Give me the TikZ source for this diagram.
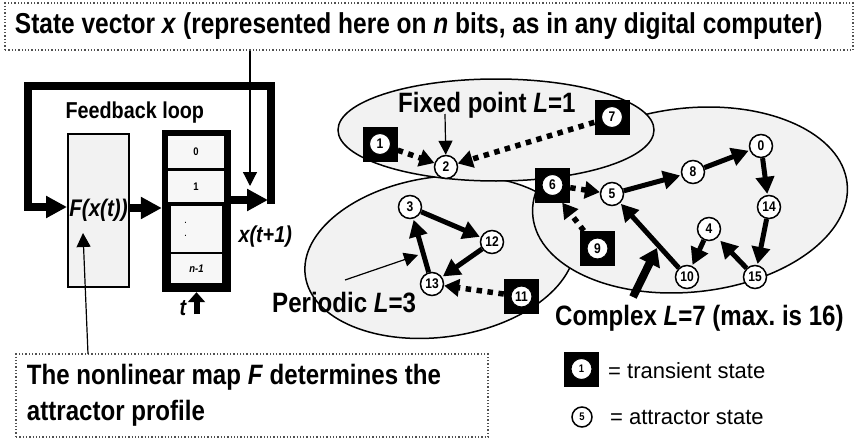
\documentclass[tikz,border=0pt]{standalone}
\usepackage{fontspec}
\setmainfont{Liberation Sans}
\newfontfamily\narrowsans[FakeStretch=0.86]{Liberation Sans}
\newfontfamily\titlesans[FakeStretch=0.85]{Liberation Sans}
\usetikzlibrary{arrows.meta}
\definecolor{panel}{HTML}{F2F2F2}
\definecolor{cellfill}{HTML}{F7F7F7}
\definecolor{dotline}{HTML}{505050}
\newcommand{\setfs}[2]{\fontsize{#1}{#2}\selectfont}
\frenchspacing

\begin{document}
\begin{tikzpicture}[x=1pt,y=-1pt,
  headfont/.style={font=\narrowsans\bfseries\setfs{28}{36}},
  notebox/.style={draw=dotline, dotted, line width=1.3pt, inner xsep=10pt, inner ysep=0pt, align=flush left},
  thinarrow/.style={line width=1.2pt, -{Triangle[length=14pt,width=14pt]}},
  looparrow/.style={line width=8pt, line join=miter, -{Triangle[length=21pt,width=21pt]}},
  basin/.style={draw=black, line width=1.5pt, fill=panel},
  attractor/.style={circle, draw, line width=1.5pt, fill=white, minimum size=23pt, inner sep=0pt,
    font=\narrowsans\bfseries\setfs{14}{14}},
  transient/.style={rectangle, fill=black, minimum size=35pt, inner sep=0pt,
    font=\narrowsans\bfseries\setfs{14}{14},
    path picture={\filldraw[fill=white, draw=black, line width=1pt]
      (path picture bounding box.center) circle (10.5pt);}},
  flow/.style={line width=5pt, -{Triangle[length=17pt,width=18pt]}, shorten >=1pt},
  transit/.style={line width=5.5pt, dash pattern=on 5.5pt off 5.5pt,
    -{Triangle[length=15pt,width=17pt]}},
  cell/.style={rectangle, fill=cellfill, inner sep=0pt, font=\narrowsans\bfseries\setfs{11}{11}},
]
\useasboundingbox (0,0) rectangle (855,439);

% ---- attraction basins (periodic, complex, fixed point) ----
\draw[basin, rotate around={8:(440,257)}] (440,257) ellipse (136 and 80);
\draw[basin, rotate around={6:(690,200)}] (690,200) ellipse (158 and 92);
\draw[basin] (496,130) ellipse (158 and 51);

% ---- explanatory boxes ----
\node[notebox, minimum width=848pt, minimum height=47pt, text width=828pt,
  font=\titlesans\bfseries\setfs{28.8}{34}] (titlebox) at (429,26.5)
  {\mbox{State vector \textit{x} (represented here on \textit{n} bits, as in any digital computer)}};
\node[notebox, minimum width=472pt, minimum height=83pt, text width=450pt, inner xsep=11pt,
  headfont] (mapbox) at (252,395.5)
  {The nonlinear map \textit{F} determines the\\attractor profile};

% ---- feedback block diagram ----
\node[draw, line width=2pt, fill=panel, minimum width=61pt, minimum height=153pt, inner sep=0pt,
  font=\narrowsans\bfseries\itshape\setfs{24}{24}] (fbox) at (98.5,210.5) {F(x(t))};
\node[fill=black, minimum width=69pt, minimum height=162pt, inner sep=0pt] (reg) at (196.5,211) {};
\node[cell, minimum width=56pt, minimum height=32pt] (bit0) at (196,152) {0};
\node[cell, minimum width=56pt, minimum height=31pt] (bit1) at (196,186.5) {\raisebox{-5pt}{1}};
\node[cell, minimum width=51pt, minimum height=46pt, align=center,
  font=\narrowsans\bfseries\setfs{8}{8}] (bitdots) at (196.5,229) {\kern-12pt.\\[5pt]\kern-12pt.};
\node[cell, minimum width=51pt, minimum height=29pt,
  font=\narrowsans\bfseries\itshape\setfs{11}{11}] (bitn) at (196.5,268.5) {n-1};

\node[anchor=base west, font=\narrowsans\bfseries\setfs{23}{23}] (fblbl) at (62,118) {Feedback loop};
\node[anchor=base west, font=\narrowsans\bfseries\itshape\setfs{23}{23}] (xnext) at (235,242) {x(t+1)};
\node[anchor=base west, font=\narrowsans\bfseries\itshape\setfs{23}{23}] (tlbl) at (176,315) {t};

\coordinate (busR) at (268,200);
\coordinate (loopBR) at (271,204);
\coordinate (loopTL) at (28,86);
\coordinate (fin) at ([yshift=3.5pt]fbox.west);
\coordinate (clk) at (196.5,314);
\coordinate (xtip) at (250,186);
\coordinate (mapfoot) at (88,354);
\coordinate (ftip) at (83,233);

\draw[looparrow] ([yshift=2.5pt]fbox.east) -- ([yshift=3pt]reg.west);
\draw[looparrow] ([yshift=11pt]reg.east) -- (busR);
\draw[looparrow] (loopBR) |- (loopTL) |- (fin);
\draw[line width=6pt, -{Triangle[length=10pt,width=17pt]}] (clk) -- (reg.south);
\draw[thinarrow] (titlebox.south -| xtip) -- (xtip);
\draw[thinarrow] (mapfoot) -- (ftip);

% ---- state graph ----
\node[transient] (n1) at (380,144) {1};
\node[attractor] (n2) at (446,167) {2};
\node[transient] (n7) at (612,117) {7};
\node[transient] (n6) at (552.5,185) {6};
\node[attractor] (n5) at (612,194) {5};
\node[attractor] (n8) at (693,172) {8};
\node[attractor] (n0) at (761,146) {0};
\node[attractor] (n14) at (769,207) {14};
\node[attractor] (n15) at (755,277) {15};
\node[attractor] (n4) at (709,229) {4};
\node[attractor] (n10) at (687,277) {10};
\node[transient] (n9) at (597.5,248.5) {9};
\node[attractor] (n3) at (410,207) {3};
\node[attractor] (n12) at (492,242) {12};
\node[attractor] (n13) at (432,284) {13};
\node[transient] (n11) at (521.5,296.5) {11};

\draw[transit] (n1) -- (n2);
\draw[transit] (n7) -- (n2);
\draw[transit] (n6) -- (n5);
\draw[transit] ([xshift=4pt]n9.north west) -- ([xshift=-8pt]n6.south east);
\draw[transit] (n11) -- (n13);

\draw[flow] (n3) -- (n12);
\draw[flow] (n12) -- (n13);
\draw[flow] (n13) -- (n3);
\draw[flow] (n5) -- (n8);
\draw[flow] (n8) -- (n0);
\draw[flow] (n0) -- (n14);
\draw[flow] (n14) -- (n15);
\draw[flow, shorten >=4pt] (n15) -- (n4);
\draw[flow] (n4) -- (n10);
\draw[flow] (n10) -- (n5);

% ---- basin labels ----
\node[anchor=base west, headfont, inner sep=0pt] (fixlbl) at (398,112) {Fixed point \textit{L}=1};
\node[anchor=base west, headfont, inner sep=0pt] (perlbl) at (272,312) {Periodic \textit{L}=3};
\node[anchor=base west, headfont, inner sep=0pt] (cpxlbl) at (555,325) {Complex \textit{L}=7 (max. is 16)};

\coordinate (fixfoot) at (445,114);
\coordinate (perfoot) at (345,280);
\coordinate (pertip) at (418,255);
\coordinate (cpxfoot) at (633,297);
\coordinate (cpxtip) at (657,248);
\draw[thinarrow] (fixfoot) -- (n2);
\draw[thinarrow] (perfoot) -- (pertip);
\draw[line width=8pt, -{Triangle[length=17pt,width=22pt]}] (cpxfoot) -- (cpxtip);

% ---- legend ----
\node[transient, font=\narrowsans\bfseries\setfs{11}{11}] (legT) at (581.5,369) {1};
\node[attractor, minimum size=20pt, font=\narrowsans\bfseries\setfs{11}{11}] (legA) at (582,417) {5};
\node[anchor=west, inner sep=0pt, font=\setfs{22}{22}] (legTtxt) at (608,371) {= transient state};
\node[anchor=west, inner sep=0pt, font=\setfs{22}{22}] (legAtxt) at (610,417) {= attractor state};
\end{tikzpicture}
\end{document}
